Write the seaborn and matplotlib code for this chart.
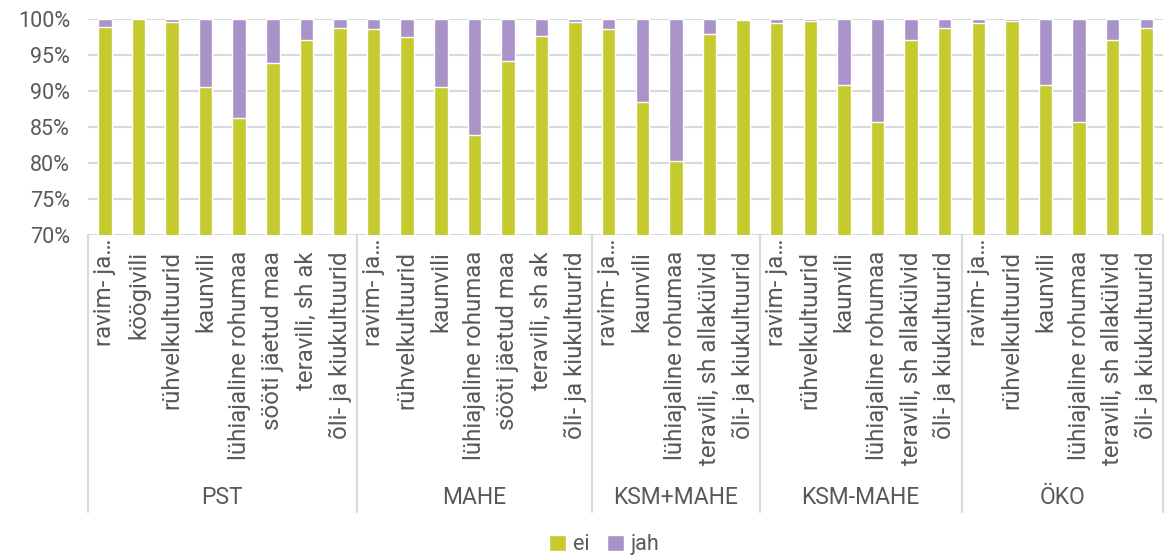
import numpy as np
import pandas as pd
import matplotlib
matplotlib.use("Agg")
import matplotlib.pyplot as plt
import matplotlib.transforms as mtransforms
from matplotlib.patches import Patch
import seaborn as sns

# Share of "ei" answers (%) per crop group, "jah" fills up to 100 %
group_names = ["PST", "MAHE", "KSM+MAHE", "KSM-MAHE", "ÖKO"]

pst_crops = ["ravim- ja…", "köögivili", "rühvelkultuurid", "kaunvili",
             "lühiajaline rohumaa", "sööti jäetud maa", "teravili, sh ak",
             "õli- ja kiukultuurid"]
pst_ei = [98.85, 99.95, 99.6, 90.5, 86.2, 93.9, 97.1, 98.7]

mahe_crops = ["ravim- ja…", "rühvelkultuurid", "kaunvili", "lühiajaline rohumaa",
              "sööti jäetud maa", "teravili, sh ak", "õli- ja kiukultuurid"]
mahe_ei = [98.6, 97.55, 90.5, 83.9, 94.2, 97.7, 99.6]

ksm_pluss_crops = ["ravim- ja…", "kaunvili", "lühiajaline rohumaa",
                   "teravili, sh allakülvid", "õli- ja kiukultuurid"]
ksm_pluss_ei = [98.65, 88.5, 80.3, 97.95, 99.8]

ksm_miinus_crops = ["ravim- ja…", "rühvelkultuurid", "kaunvili", "lühiajaline rohumaa",
                    "teravili, sh allakülvid", "õli- ja kiukultuurid"]
ksm_miinus_ei = [99.4, 99.75, 90.9, 85.65, 97.05, 98.75]

oko_crops = ["ravim- ja…", "rühvelkultuurid", "kaunvili", "lühiajaline rohumaa",
             "teravili, sh allakülvid", "õli- ja kiukultuurid"]
oko_ei = [99.4, 99.75, 90.9, 85.65, 97.05, 98.75]

COLOR_EI = "#C5CA2E"
COLOR_JAH = "#A993C8"
TEXT_COLOR = "#595959"
GRID_COLOR = "#D9D9D9"

all_crops = [pst_crops, mahe_crops, ksm_pluss_crops, ksm_miinus_crops, oko_crops]
all_ei = [pst_ei, mahe_ei, ksm_pluss_ei, ksm_miinus_ei, oko_ei]

rows = []
for g, crops, ei in zip(group_names, all_crops, all_ei):
    for c, v in zip(crops, ei):
        rows.append({"grupp": g, "kultuur": c, "key": f"{g}|{c}", "ei": v, "kokku": 100.0})
df = pd.DataFrame(rows)
order = list(df["key"])

sns.set_theme(style="white")
plt.rcParams["font.family"] = ["Roboto", "DejaVu Sans"]

fig = plt.figure(figsize=(11.66, 5.6), dpi=100)
ax = fig.add_axes([0.0755, 0.580, 0.922, 0.386])

# purple full bar underneath, green "ei" share on top
sns.barplot(data=df, x="key", y="kokku", order=order, color=COLOR_JAH,
            width=0.4, saturation=1, ax=ax, errorbar=None)
sns.barplot(data=df, x="key", y="ei", order=order, color=COLOR_EI,
            width=0.4, saturation=1, ax=ax, errorbar=None)

ax.set_ylim(70, 100)
ax.set_xlim(-0.5, len(order) - 0.5)
ax.set_yticks(np.arange(70, 101, 5))
ax.set_yticklabels([f"{t}%" for t in range(70, 101, 5)], color=TEXT_COLOR, fontsize=15.5)
ax.tick_params(axis="y", length=0, pad=13)
ax.set_axisbelow(True)
ax.yaxis.grid(True, color=GRID_COLOR, linewidth=1.5)
for s in ax.spines.values():
    s.set_visible(False)
ax.set_xlabel("")
ax.set_ylabel("")
ax.set_xticks([])

trans = mtransforms.blended_transform_factory(ax.transData, ax.transAxes)
px = 1.0 / (0.386 * 560)  # one pixel in axes-height units

# crop labels (rotated), group labels and separators
for i, crop in enumerate(df["kultuur"]):
    y0 = -3 * px if crop.startswith("ravim") else -16 * px
    ax.text(i, y0, crop, rotation=90, ha="center", va="top", transform=trans,
            color=TEXT_COLOR, fontsize=17.3)

start = 0
bounds = [-0.5]
for g, crops in zip(group_names, all_crops):
    end = start + len(crops)
    ax.text((start + end - 1) / 2, -262 * px, g, ha="center", va="center",
            transform=trans, color=TEXT_COLOR, fontsize=16.5)
    bounds.append(end - 0.5)
    start = end

for b in bounds:
    ax.plot([b, b], [0, -277 * px], transform=trans, color=GRID_COLOR,
            linewidth=1.5, clip_on=False)

handles = [Patch(facecolor=COLOR_EI, label="ei"), Patch(facecolor=COLOR_JAH, label="jah")]
leg = fig.legend(handles=handles, loc="center", bbox_to_anchor=(0.518, 0.027), ncol=2,
                 frameon=False, fontsize=15.5, handlelength=0.8, handleheight=0.8,
                 handletextpad=0.3, columnspacing=0.8)
for t in leg.get_texts():
    t.set_color(TEXT_COLOR)

fig.savefig("out.png", dpi=100)
